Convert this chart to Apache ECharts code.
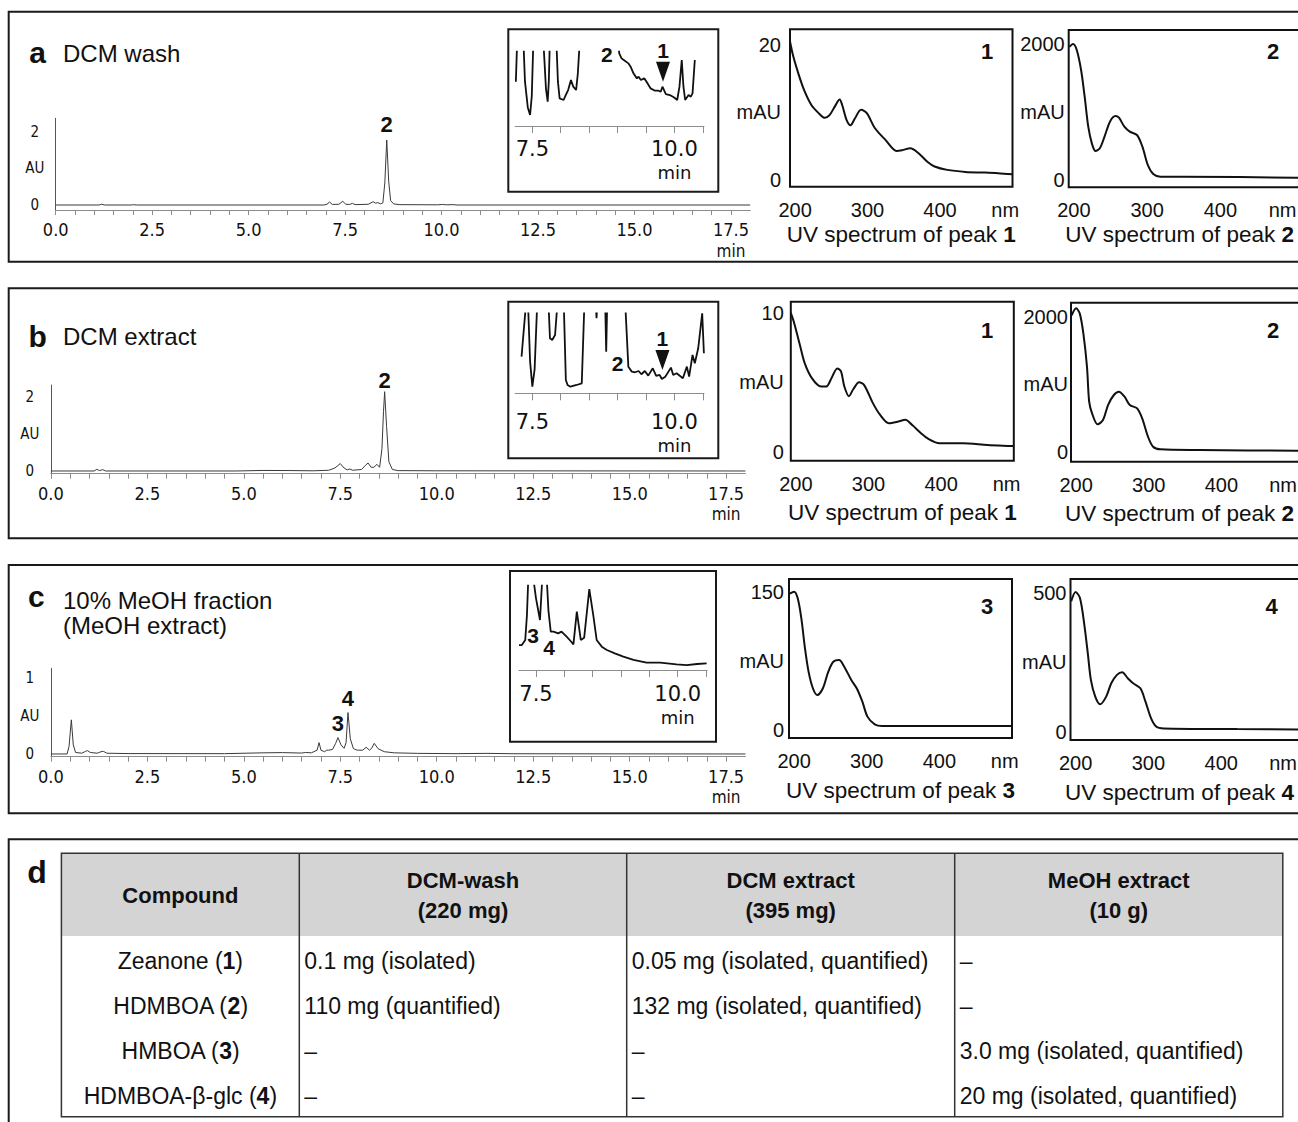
<!DOCTYPE html>
<html><head><meta charset="utf-8">
<script src="https://cdn.jsdelivr.net/npm/echarts@6/dist/echarts.min.js"></script>
<style>html,body{margin:0;padding:0;background:#fff}#chart{width:1298px;height:1122px}</style>
</head><body><div id="chart"></div>
<script>
// ---------------- DATA ----------------
const chromTimeLabels = [0, 2.5, 5, 7.5, 10, 12.5, 15, 17.5];
const insetTimeLabels = [7.5, 10];
const insetTicks = [7.5, 8, 8.5, 9, 9.5, 10, 10.5];
const uvTickLabels = [200, 300, 400];
const uvUnitAtLeft = 490;
const uvUnitAtRight = 485;
const auLabelsA = [0, 1, 2];
const auLabelsB = [0, 1, 2];
const auLabelsC = [0, 0.5, 1];
const uvYLabelsA1 = [0, 10, 20];
const uvYLabelsA2 = [0, 1000, 2000];
const uvYLabelsB1 = [0, 5, 10];
const uvYLabelsB2 = [0, 1000, 2000];
const uvYLabelsC3 = [0, 75, 150];
const uvYLabelsC4 = [0, 250, 500];

// HPLC chromatograms [min, AU]
const chromA = [[0,0],[1.12,0],[1.19,0.02],[1.27,0],[1.95,0],[2.02,0.008],[2.1,0],[6.95,0],[7.03,0.02],[7.1,0.08],[7.17,0.015],[7.34,0.02],[7.44,0.1],[7.52,0.02],[7.62,0.015],[7.69,0.045],[7.76,0.01],[8.1,0.02],[8.23,0.09],[8.29,0.05],[8.35,0.064],[8.42,0.03],[8.48,0.06],[8.53,0.6],[8.58,1.77],[8.63,0.65],[8.68,0.12],[8.76,0.03],[8.9,0.01],[9.9,0.005],[10.02,0.015],[10.12,0.005],[10.3,0.01],[10.4,0],[18,0]];
const chromB = [[0,0],[1.12,0],[1.19,0.045],[1.26,0.01],[1.34,0.036],[1.42,0],[4.8,0],[5.5,0.015],[6.2,0.012],[6.8,0.005],[7.2,0.02],[7.36,0.08],[7.5,0.2],[7.6,0.08],[7.68,0.03],[7.75,0.054],[7.82,0.02],[8.05,0.04],[8.15,0.15],[8.22,0.216],[8.3,0.1],[8.37,0.1],[8.45,0.18],[8.52,0.1],[8.58,0.6],[8.62,1.6],[8.65,2.14],[8.7,1.2],[8.76,0.25],[8.85,0.04],[9.0,0.01],[10.0,0.005],[18,0]];
const chromC = [[0,0],[0.42,0],[0.47,0.1],[0.53,0.45],[0.58,0.12],[0.64,0.02],[0.8,0.01],[0.9,0.035],[0.95,0.044],[1.02,0.02],[1.2,0.01],[1.3,0.03],[1.36,0.035],[1.45,0.01],[2.0,0.005],[4.5,0.004],[5.5,0.015],[6.0,0.018],[6.5,0.012],[6.6,0.02],[6.75,0.015],[6.9,0.05],[6.95,0.15],[7.0,0.05],[7.09,0.03],[7.15,0.05],[7.2,0.05],[7.3,0.06],[7.38,0.14],[7.44,0.216],[7.52,0.12],[7.6,0.075],[7.65,0.15],[7.7,0.546],[7.76,0.2],[7.84,0.07],[7.94,0.05],[8.08,0.05],[8.17,0.088],[8.26,0.05],[8.32,0.08],[8.38,0.14],[8.48,0.07],[8.64,0.03],[8.9,0.015],[9.5,0.008],[10.5,0.004],[11.3,0.008],[12,0.003],[18,0]];

// Zoomed insets [min, relative response]; values above 10 run off the top of the inset
const insetA = [[7.21,5.96],[7.235,12],[7.34,12],[7.37,6],[7.42,2.5],[7.46,1.48],[7.49,4],[7.52,12],[7.69,12],[7.74,5],[7.77,3.27],[7.79,6],[7.81,12],[7.92,12],[7.95,6],[7.98,3.72],[8.05,3.5],[8.09,4.2],[8.13,4.84],[8.18,6.19],[8.22,5.3],[8.27,4.84],[8.30,7],[8.34,12],[8.6,40],[9.0,12],[9.03,9.78],[9.07,9.1],[9.11,8.88],[9.19,8.43],[9.23,7.98],[9.28,7.09],[9.34,6.41],[9.37,6.64],[9.41,6.19],[9.47,6.41],[9.51,5.96],[9.58,5.07],[9.66,4.75],[9.72,4.75],[9.76,4.62],[9.79,5.29],[9.85,4.30],[9.92,4.17],[9.99,3.86],[10.05,3.5],[10.09,5.29],[10.13,8.88],[10.16,5.29],[10.19,3.5],[10.25,4.17],[10.29,3.95],[10.32,4.39],[10.36,8.88]];
const insetB = [[7.31,4.58],[7.38,10.5],[7.40,12],[7.42,12],[7.46,4],[7.50,0.83],[7.54,3],[7.59,12],[7.78,12],[7.81,6.88],[7.85,6.67],[7.90,7.29],[7.95,12],[8.05,12],[8.09,1.67],[8.12,1.04],[8.17,0.83],[8.28,1.04],[8.37,1.25],[8.42,12],[8.61,12],[8.63,9.4],[8.65,12],[8.78,12],[8.80,5.2],[8.82,12],[9.13,12],[9.19,3.33],[9.25,2.71],[9.31,2.63],[9.37,2.79],[9.42,2.38],[9.48,2.79],[9.54,2.21],[9.62,3.13],[9.68,2.17],[9.74,2.29],[9.78,1.79],[9.84,2.08],[9.94,3.21],[9.98,2.29],[10.04,2.5],[10.15,1.88],[10.22,3.33],[10.26,2.08],[10.32,4.79],[10.36,3.75],[10.42,5.63],[10.49,10],[10.52,5]];
const insetC = [[7.2,2.96],[7.25,2.96],[7.31,3.56],[7.34,6.5],[7.37,12],[7.43,12],[7.50,8.5],[7.57,5.93],[7.62,12],[7.68,12],[7.72,7],[7.76,4.55],[7.81,4.55],[7.89,4.35],[7.95,4.55],[8.04,3.95],[8.11,3.44],[8.16,3.04],[8.22,6.92],[8.29,3.56],[8.35,3.83],[8.44,9.6],[8.51,6.52],[8.57,3.56],[8.66,2.77],[8.75,2.37],[8.89,1.98],[9.04,1.58],[9.22,1.19],[9.45,0.87],[9.69,0.87],[9.98,0.67],[10.16,0.59],[10.34,0.71],[10.51,0.79]];

// UV spectra [nm, mAU]
const uvA1 = [[193,20.5],[197.5,18.3],[205,15.6],[212.5,13.3],[222.5,11.1],[232.5,9.9],[241,9.2],[247.5,9.6],[255,10.9],[261.5,11.9],[265,11.1],[271,8.9],[276.5,8.1],[282.5,9.1],[291,10.4],[299,9.9],[310,7.7],[325,5.9],[340,4.3],[347.5,4.4],[359,4.7],[370,4.0],[382.5,2.7],[392.5,2.0],[410,1.5],[435,1.2],[460,1.1],[480,1.0],[500,0.84]];
const uvA2 = [[194,1960],[199,2000],[204,1912],[209.9,1618],[214.8,1225],[219.7,784],[224.6,539],[229.6,426],[235.5,466],[241.9,637],[249.3,858],[256.7,941],[261.6,917],[269,784],[276.4,711],[286.2,662],[293.6,490],[301,221],[308.4,88],[318.2,49],[347.8,49],[504,34],[535,33]];
const uvB1 = [[193,10.0],[197.5,9.3],[205,7.8],[212,6.4],[222,5.3],[234.6,4.7],[242,4.7],[249,5.3],[257,6.0],[262,5.8],[266.7,4.7],[273,4.0],[279,4.5],[287,5.0],[294,4.8],[306,3.5],[316,2.65],[328,2.05],[341,2.17],[350.6,2.3],[360.5,1.9],[373,1.3],[383,0.9],[397.5,0.6],[429.6,0.6],[464,0.48],[496,0.41],[500,0.4]];
const uvB2 = [[194,2020],[200,2123],[205,2049],[210,1753],[215,1259],[218,741],[222,568],[229.6,405],[237,469],[244,691],[252,840],[259,889],[266.7,815],[274,691],[284,642],[291,494],[299,222],[306,74],[316,35],[370,25],[503,15],[535,15]];
const uvC3 = [[194,148],[200,150],[205,142.8],[210,121],[215,88.5],[220,63],[226,45],[232,37.9],[239.5,45],[247,63],[254,74],[262,75.9],[269,68.7],[279,54],[286.4,45],[294,30.7],[301,14.5],[311,6.1],[321,4.3],[360,4.3],[500,4.3]];
const uvC4 = [[194,470],[200,503.6],[206,482],[212,385.5],[217,277],[221,187],[227,126.5],[233.6,98.8],[242,126.5],[249,174.7],[256.8,204.8],[264,214.5],[271.6,192.8],[279,174.7],[289,156.6],[296,108.4],[303.7,48.2],[311,18],[321,12],[422,9.6],[505,8.4],[535,8.3]];

// Peak annotations [label, time, value]
const peakLabelsA = [['2', 8.58, 1.77]];
const peakLabelsB = [['2', 8.65, 2.14]];
const peakLabelsC = [['3', 7.44, 0.216], ['4', 7.7, 0.546]];
const insetLabelsA = [['2', 8.81, 9.56]];
const insetArrowA = [['1', 9.8, 5.96]];
const insetLabelsB = [['2', 9.0, 3.75]];
const insetArrowB = [['1', 9.79, 2.91]];
const insetLabelsC = [['3', 7.45, 4.15], ['4', 7.73, 2.65]];

// Table (panel d)
const tableHeaders = ['Compound', 'DCM-wash\n(220 mg)', 'DCM extract\n(395 mg)', 'MeOH extract\n(10 g)'];
const compoundNames = ['Zeanone', 'HDMBOA', 'HMBOA', 'HDMBOA-β-glc'];
const compoundIds = ['1', '2', '3', '4'];
const dcmWashAmounts = ['0.1 mg (isolated)', '110 mg (quantified)', '–', '–'];
const dcmExtractAmounts = ['0.05 mg (isolated, quantified)', '132 mg (isolated, quantified)', '–', '–'];
const meohExtractAmounts = ['–', '–', '3.0 mg (isolated, quantified)', '20 mg (isolated, quantified)'];

// ---------------- STYLE / LAYOUT ----------------
const SANS = "'Liberation Sans', Arial, Helvetica, sans-serif";
const CHROM = "'DejaVu Sans Condensed', 'DejaVu Sans', sans-serif";
const VER = "'DejaVu Sans', Verdana, sans-serif";
const INK = '#111';

const chromTicks = [];
for (let t = 0; t <= 17.5 + 1e-9; t += 0.5) chromTicks.push(Math.round(t * 10) / 10);

const grids = [
  {left:55.7, top:118.3, width:694.5, height:91.7},
  {left:50.9, top:385, width:694.5, height:88.7},
  {left:50.9, top:668.3, width:694.5, height:88.4},
  {left:515.3, top:51.7, width:188.6, height:74.3},
  {left:515.3, top:313.3, width:188.6, height:80},
  {left:519, top:585.7, width:188.2, height:84.3},
  {left:790, top:29.3, width:222.5, height:157.4},
  {left:1068.7, top:30, width:245, height:157.3},
  {left:790.8, top:301.7, width:223, height:159},
  {left:1071, top:302.7, width:245, height:159},
  {left:789, top:579, width:223, height:159},
  {left:1070.5, top:579, width:245, height:161}
];
grids.forEach((g, i) => {
  g.outerBoundsMode = 'none';
  g.containLabel = false;
  if (i >= 6) { g.show = true; g.borderColor = INK; g.borderWidth = 2; g.backgroundColor = 'transparent'; }
});

const near = (a, b) => Math.abs(a - b) < 1e-6;

function chromX(gi) {
  return {gridIndex:gi, type:'value', min:0, max:18,
    axisLine:{show:true, onZero:false, lineStyle:{color:'#8c8c8c', width:1.2}},
    axisTick:{show:true, customValues:chromTicks, length:5, lineStyle:{color:'#8c8c8c'}},
    axisLabel:{customValues:chromTimeLabels, formatter:v => near(v,17.5) ? '17.5\n{m|min}' : v.toFixed(1),
      fontFamily:CHROM, fontSize:18, color:INK, margin:9, lineHeight:21,
      rich:{m:{fontFamily:CHROM, fontSize:17, lineHeight:21, color:INK}}},
    splitLine:{show:false}};
}
function chromY(gi, min, max, vals) {
  return {gridIndex:gi, type:'value', min, max,
    axisLine:{show:true, onZero:false, lineStyle:{color:'#555', width:1}},
    axisTick:{show:false}, splitLine:{show:false},
    axisLabel:{customValues:vals, formatter:v => near(v, vals[1]) ? 'AU' : String(v),
      fontFamily:CHROM, fontSize:15, color:INK, margin:21, align:'center'}};
}
function insetX(gi, min, margin) {
  return {gridIndex:gi, type:'value', min, max:10.52,
    axisLine:{show:true, onZero:false, lineStyle:{color:'#8c8c8c', width:1.2}},
    axisTick:{show:true, customValues:insetTicks, length:7, lineStyle:{color:'#8c8c8c'}},
    axisLabel:{customValues:insetTimeLabels, formatter:v => near(v,10) ? '10.0\n{m|min}' : v.toFixed(1),
      fontFamily:VER, fontSize:21, color:INK, margin, lineHeight:24,
      rich:{m:{fontFamily:VER, fontSize:18, lineHeight:22, color:INK}}},
    splitLine:{show:false}};
}
function insetY(gi) { return {gridIndex:gi, type:'value', min:0, max:10, show:false}; }
function uvX(gi, max, num, gap, shift, unitAt) {
  return {gridIndex:gi, type:'value', min:193, max,
    axisLine:{show:false}, axisTick:{show:false}, splitLine:{show:false},
    axisLabel:{customValues:uvTickLabels.concat([unitAt]), formatter:v => near(v, unitAt) ? 'nm' : String(v),
      fontFamily:SANS, fontSize:20, color:INK, margin:13},
    name:'UV spectrum of peak {b|' + num + '}', nameLocation:'middle', nameGap:gap,
    nameTextStyle:{fontFamily:SANS, fontSize:22.5, color:INK, padding:[0, shift, 0, 0],
      rich:{b:{fontFamily:SANS, fontSize:22.5, fontWeight:'bold', color:INK}}}};
}
function uvY(gi, min, max, vals, margin) {
  return {gridIndex:gi, type:'value', min, max,
    axisLine:{show:false}, axisTick:{show:false}, splitLine:{show:false},
    axisLabel:{customValues:vals, formatter:v => near(v, vals[1]) ? 'mAU' : String(v),
      fontFamily:SANS, fontSize:20, color:INK, margin}};
}

function peakMarks(list, dist) {
  return {symbol:'circle', symbolSize:0, silent:true,
    label:{show:true, position:'top', distance:dist, formatter:'{b}', fontFamily:SANS, fontSize:22, fontWeight:'bold', color:INK},
    data:list.map(([n,t,v]) => ({name:n, coord:[t,v]}))};
}
function insetMarks(labels, arrows) {
  const data = labels.map(([n,t,v]) => ({name:n, coord:[t,v], symbolSize:0,
    label:{show:true, position:'inside', formatter:'{b}', fontFamily:SANS, fontSize:21, fontWeight:'bold', color:INK}}));
  (arrows || []).forEach(([n,t,v]) => data.push({name:n, coord:[t,v], symbol:'triangle', symbolRotate:180,
    symbolSize:[14,20], symbolOffset:[0,-10], itemStyle:{color:INK},
    label:{show:true, position:'top', distance:1, formatter:'{b}', fontFamily:SANS, fontSize:21, fontWeight:'bold', color:INK}}));
  return {silent:true, data};
}

function chromSeries(gi, data, marks) {
  return {type:'line', xAxisIndex:gi, yAxisIndex:gi, data, symbol:'none', showSymbol:false,
    lineStyle:{color:'#3a3a3a', width:1}, markPoint:marks, animation:false};
}
function insetSeries(gi, data, marks) {
  return {type:'line', xAxisIndex:gi, yAxisIndex:gi, data, symbol:'none', showSymbol:false, clip:true,
    lineStyle:{color:INK, width:1.8}, markPoint:marks, animation:false};
}
function uvSeries(gi, data) {
  return {type:'line', xAxisIndex:gi, yAxisIndex:gi, data, symbol:'none', showSymbol:false, smooth:0.3, clip:true,
    lineStyle:{color:INK, width:2}, animation:false};
}

// ---------------- GRAPHICS (frames, titles, table) ----------------
function txt(x, y, text, size, extra) {
  const st = Object.assign({text, fontSize:size, fontFamily:SANS, fill:INK,
    align:'left', verticalAlign:'middle', textAlign:'left', textVerticalAlign:'middle'}, extra || {});
  if (st.align) st.textAlign = st.align;
  return {type:'text', x, y, silent:true, style:st};
}
function frame(x, y, w, h, lw) {
  return {type:'rect', silent:true, shape:{x, y, width:w, height:h}, style:{fill:'none', stroke:'#1a1a1a', lineWidth:lw}};
}
function vline(x, y1, y2) {
  return {type:'line', silent:true, shape:{x1:x, y1, x2:x, y2}, style:{stroke:'#333', lineWidth:1.5}};
}

const graphics = [
  frame(8.7, 11.7, 1300, 250, 2),
  frame(8.7, 288.3, 1300, 250, 2),
  frame(8.7, 565, 1300, 248.3, 2),
  frame(8.7, 839.3, 1300, 300, 2),
  frame(508.3, 29.3, 210, 162.4, 2),
  frame(508.3, 301.7, 210, 156.6, 2),
  frame(510, 571, 206, 170.7, 2),
  txt(37.6, 52.3, 'a', 30, {fontWeight:'bold', align:'center'}),
  txt(63, 53.4, 'DCM wash', 24),
  txt(37.6, 336.3, 'b', 30, {fontWeight:'bold', align:'center'}),
  txt(63, 336, 'DCM extract', 24),
  txt(36.4, 596.3, 'c', 30, {fontWeight:'bold', align:'center'}),
  txt(63, 600, '10% MeOH fraction', 24),
  txt(63, 625, '(MeOH extract)', 24),
  txt(37, 872, 'd', 32, {fontWeight:'bold', align:'center'}),
  txt(987, 51.7, '1', 22, {fontWeight:'bold', align:'center'}),
  txt(1273, 51.7, '2', 22, {fontWeight:'bold', align:'center'}),
  txt(987, 330, '1', 22, {fontWeight:'bold', align:'center'}),
  txt(1273, 330, '2', 22, {fontWeight:'bold', align:'center'}),
  txt(987, 606.7, '3', 22, {fontWeight:'bold', align:'center'}),
  txt(1271.5, 606.7, '4', 22, {fontWeight:'bold', align:'center'})
];

// table
const colX = [61.4, 299.3, 626.7, 954.7, 1282.8];
const tTop = 853.3, tHead = 936, tBottom = 1116.7;
const rowY = [960.7, 1005.7, 1050.5, 1096];
graphics.push({type:'rect', silent:true, shape:{x:colX[0], y:tTop, width:colX[4]-colX[0], height:tHead-tTop}, style:{fill:'#d4d4d4'}});
graphics.push({type:'rect', silent:true, shape:{x:colX[0], y:tTop, width:colX[4]-colX[0], height:tBottom-tTop}, style:{fill:'none', stroke:'#333', lineWidth:1.5}});
for (let i = 1; i < 4; i++) graphics.push(vline(colX[i], tTop, tBottom));
tableHeaders.forEach((h, i) => {
  graphics.push(txt((colX[i] + colX[i+1]) / 2, (tTop + tHead) / 2 + 0.5, h, 22, {fontWeight:'bold', align:'center', lineHeight:30}));
});
const boldRich = {b:{fontFamily:SANS, fontSize:23, fontWeight:'bold', fill:INK}};
compoundNames.forEach((n, r) => {
  graphics.push(txt((colX[0] + colX[1]) / 2, rowY[r], n + ' ({b|' + compoundIds[r] + '})', 23, {align:'center', rich:boldRich}));
  graphics.push(txt(colX[1] + 5, rowY[r], dcmWashAmounts[r], 23));
  graphics.push(txt(colX[2] + 5, rowY[r], dcmExtractAmounts[r], 23));
  graphics.push(txt(colX[3] + 5, rowY[r], meohExtractAmounts[r], 23));
});

// ---------------- OPTION ----------------
const option = {
  animation:false,
  backgroundColor:'#fff',
  textStyle:{fontFamily:SANS},
  grid:grids,
  xAxis:[
    chromX(0), chromX(1), chromX(2),
    insetX(3, 7.2, 11), insetX(4, 7.2, 17), insetX(5, 7.2, 12),
    uvX(6, 500, '1', 36, 0, uvUnitAtLeft), uvX(7, 527.4, '2', 36, 23, uvUnitAtRight),
    uvX(8, 500, '1', 40, 0, uvUnitAtLeft), uvX(9, 530.3, '2', 40, 28, uvUnitAtRight),
    uvX(10, 500, '3', 41, 0, uvUnitAtLeft), uvX(11, 529.5, '4', 41, 27, uvUnitAtRight)
  ],
  yAxis:[
    chromY(0, -0.136, 2.36, auLabelsA), chromY(1, -0.073, 2.32, auLabelsB), chromY(2, -0.036, 1.13, auLabelsC),
    insetY(3), insetY(4), insetY(5),
    uvY(6, -0.99, 22.3, uvYLabelsA1, 9), uvY(7, -107, 2206, uvYLabelsA2, 4),
    uvY(8, -0.65, 10.81, uvYLabelsB1, 7), uvY(9, -148, 2207, uvYLabelsB2, 3),
    uvY(10, -8.7, 163.8, uvYLabelsC3, 5), uvY(11, -29.9, 550.5, uvYLabelsC4, 4)
  ],
  series:[
    chromSeries(0, chromA, peakMarks(peakLabelsA, 4)),
    chromSeries(1, chromB, peakMarks(peakLabelsB, 0)),
    chromSeries(2, chromC, peakMarks(peakLabelsC, 3)),
    insetSeries(3, insetA, insetMarks(insetLabelsA, insetArrowA)),
    insetSeries(4, insetB, insetMarks(insetLabelsB, insetArrowB)),
    insetSeries(5, insetC, insetMarks(insetLabelsC)),
    uvSeries(6, uvA1), uvSeries(7, uvA2),
    uvSeries(8, uvB1), uvSeries(9, uvB2),
    uvSeries(10, uvC3), uvSeries(11, uvC4)
  ],
  graphic:{elements:graphics}
};

const chart = echarts.init(document.getElementById('chart'), null, {renderer:'svg', width:1298, height:1122});
chart.setOption(option);
</script></body></html>
